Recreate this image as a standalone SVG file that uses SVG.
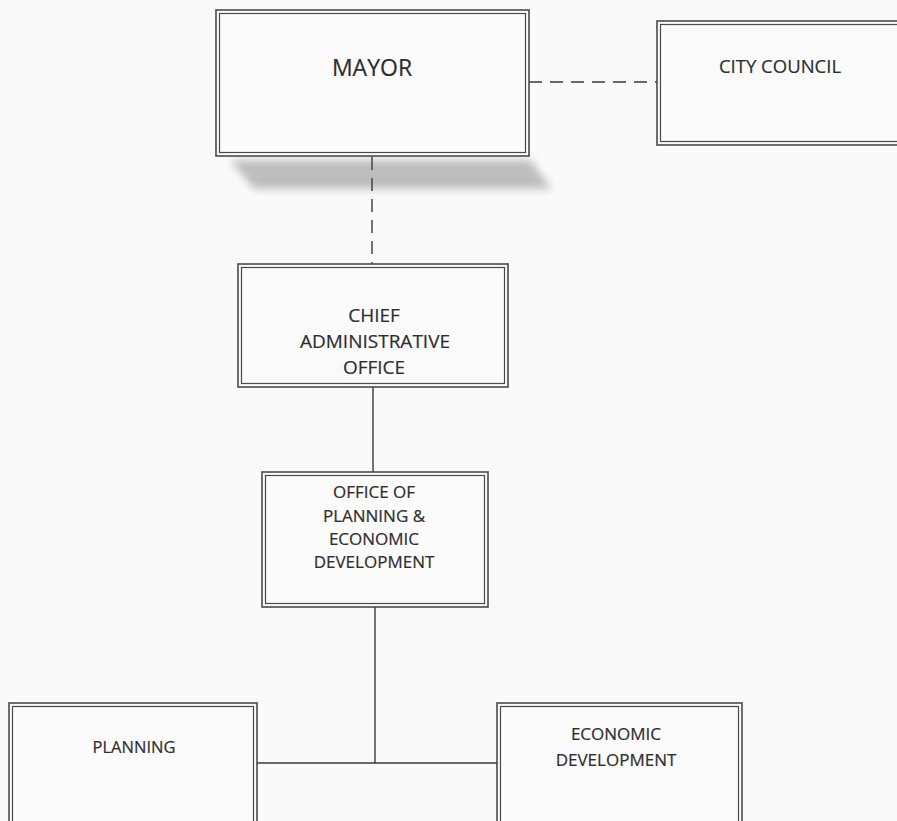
<svg xmlns="http://www.w3.org/2000/svg" width="897" height="821" viewBox="0 0 897 821">
  <defs>
    <filter id="blur" x="-10%" y="-50%" width="120%" height="200%">
      <feGaussianBlur stdDeviation="4"/>
    </filter>
  </defs>
  <style>
    .outer { fill: #fbfbfb; stroke: #4a4a4a; stroke-width: 1.6; }
    .inner { fill: none; stroke: #4a4a4a; stroke-width: 1.2; }
    .lbl { font-family: "Open Sans", "Liberation Sans", sans-serif; fill: #2e2e2e; stroke: #2e2e2e; stroke-width: 0.2; text-anchor: middle; }
    .conn { stroke: #3a3a3a; stroke-width: 1.4; fill: none; }
    .dash { stroke-dasharray: 13 8; }
  </style>
  <rect x="0" y="0" width="897" height="821" fill="#fafafa"/>

  <polygon points="230,160 530,160 552,189 254,189" fill="#bdbdbd" filter="url(#blur)"/>

  <g id="connectors">
    <line class="conn dash" x1="529" y1="82" x2="657" y2="82"/>
    <line class="conn dash" x1="372" y1="157" x2="372" y2="264"/>
    <line class="conn" x1="373" y1="387" x2="373" y2="472"/>
    <line class="conn" x1="375" y1="607" x2="375" y2="763"/>
    <line class="conn" x1="257" y1="763" x2="497" y2="763"/>
  </g>

  <g id="mayor">
    <rect class="outer" x="216" y="10" width="313" height="146"/>
    <rect class="inner" x="219.5" y="13.5" width="306" height="139"/>
    <text class="lbl" x="372" y="76" font-size="23">MAYOR</text>
  </g>

  <g id="city-council">
    <rect class="outer" x="657" y="21" width="250" height="124"/>
    <rect class="inner" x="660.5" y="24.5" width="250" height="117"/>
    <text class="lbl" x="780" y="73" font-size="18.5">CITY COUNCIL</text>
  </g>

  <g id="chief-administrative-office">
    <rect class="outer" x="238" y="264" width="270" height="123"/>
    <rect class="inner" x="241.5" y="267.5" width="263" height="116"/>
    <text class="lbl" x="374" y="322" font-size="19">CHIEF</text>
    <text class="lbl" x="375" y="348" font-size="19">ADMINISTRATIVE</text>
    <text class="lbl" x="374" y="374" font-size="19">OFFICE</text>
  </g>

  <g id="office-planning-economic-development">
    <rect class="outer" x="262" y="472" width="226" height="135"/>
    <rect class="inner" x="265.5" y="475.5" width="219" height="128"/>
    <text class="lbl" x="374" y="498" font-size="17">OFFICE OF</text>
    <text class="lbl" x="374" y="522" font-size="17">PLANNING &amp;</text>
    <text class="lbl" x="374" y="545" font-size="17">ECONOMIC</text>
    <text class="lbl" x="374" y="568" font-size="17">DEVELOPMENT</text>
  </g>

  <g id="planning">
    <rect class="outer" x="9" y="703" width="248" height="130"/>
    <rect class="inner" x="12.5" y="706.5" width="241" height="130"/>
    <text class="lbl" x="134" y="753" font-size="16.5">PLANNING</text>
  </g>

  <g id="economic-development">
    <rect class="outer" x="497" y="703" width="245" height="130"/>
    <rect class="inner" x="500.5" y="706.5" width="238" height="130"/>
    <text class="lbl" x="616" y="740" font-size="17">ECONOMIC</text>
    <text class="lbl" x="616" y="766" font-size="17">DEVELOPMENT</text>
  </g>
</svg>
